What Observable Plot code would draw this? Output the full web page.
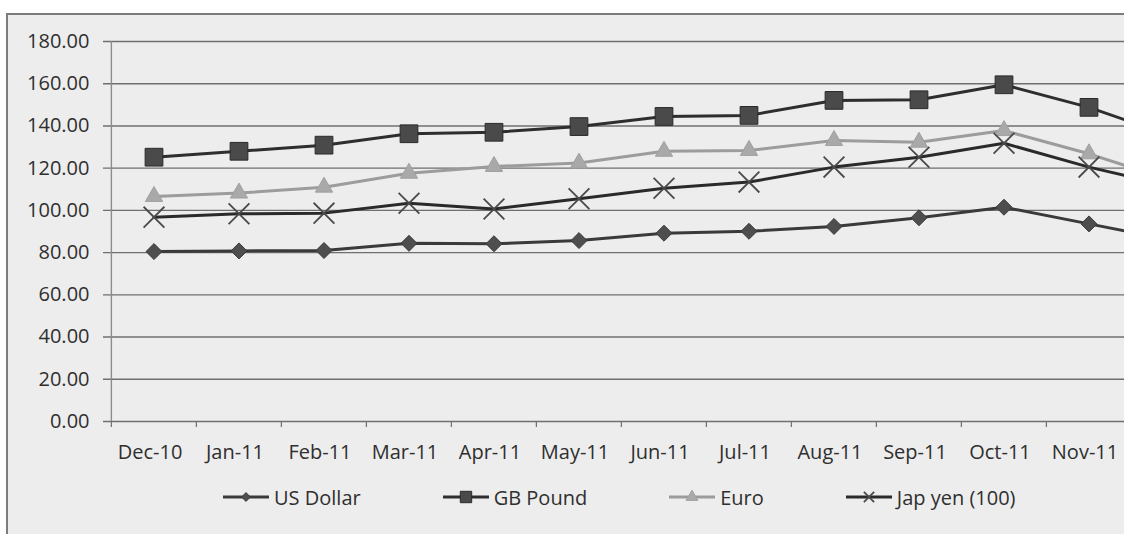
<!DOCTYPE html>
<html>
<head>
<meta charset="utf-8">
<script src="https://cdn.jsdelivr.net/npm/d3@7"></script>
<script src="https://cdn.jsdelivr.net/npm/@observablehq/plot@0.6"></script>
<style>
  html, body { margin: 0; padding: 0; background: #ffffff; }
  body { width: 1124px; height: 534px; overflow: hidden; position: relative; font-family: "Open Sans", sans-serif; }
  #panel {
    position: absolute; left: 6px; top: 13px; width: 1330px; height: 600px;
    border-left: 2px solid #7c7c7c; border-top: 2px solid #7c7c7c;
    background: #ededed; color: #2f2f2f;
  }
  #panel svg.chart { display: block; overflow: visible; }
  #legend { display: flex; align-items: center; height: 40px; padding-top: 6px; margin-left: 214px; }
  #legend .item { display: flex; align-items: center; margin-right: 81px; font-size: 20px; color: #2f2f2f; white-space: nowrap; }
  #legend .item svg { margin-right: 4px; }
</style>
</head>
<body>
<div id="panel">
  <div id="chart"></div>
  <div id="legend"></div>
</div>
<script>
// Monthly exchange rates (Rs per unit; yen per 100)
const months = ["Dec-10", "Jan-11", "Feb-11", "Mar-11", "Apr-11", "May-11", "Jun-11",
                "Jul-11", "Aug-11", "Sep-11", "Oct-11", "Nov-11", "Dec-11"];
const seriesNames = ["US Dollar", "GB Pound", "Euro", "Jap yen (100)"];
const usDollar = [80.5, 80.8, 81.0, 84.4, 84.2, 85.7, 89.2, 90.1, 92.4, 96.5, 101.5, 93.6, 85.8];
const gbPound  = [125.2, 128.0, 130.9, 136.3, 137.0, 139.7, 144.5, 145.0, 152.1, 152.4, 159.5, 148.8, 134.8];
const euro     = [106.6, 108.2, 111.0, 117.6, 120.8, 122.4, 128.0, 128.4, 133.1, 132.3, 137.8, 126.8, 113.8];
const japYen   = [96.8, 98.4, 98.7, 103.4, 100.7, 105.5, 110.5, 113.4, 120.5, 125.2, 131.8, 120.5, 111.2];
const yTicks = [0, 20, 40, 60, 80, 100, 120, 140, 160, 180];

const seriesValues = [usDollar, gbPound, euro, japYen];

// Look of each series: line colour and marker
const seriesStyle = [
  {line: "#3a3a3a", symbol: "diamond2", fill: "#4e4e4e", stroke: "#3a3a3a", strokeWidth: 1, r: 7.2, legendSym: d3.symbolDiamond2, legendSize: 50},
  {line: "#2e2e2e", symbol: "square", fill: "#4a4a4a", stroke: "#2a2a2a", strokeWidth: 1, r: 10, legendSym: d3.symbolSquare, legendSize: 130},
  {line: "#9c9c9c", symbol: "triangle", fill: "#a9a9a9", stroke: "#a0a0a0", strokeWidth: 1, r: 6.4, legendSym: d3.symbolTriangle, legendSize: 60},
  {line: "#2a2a2a", symbol: "times", fill: "none", stroke: "#4a4a4a", strokeWidth: 1.8, r: 9.5, legendSym: d3.symbolTimes, legendSize: 70}
];

const rows = seriesNames.flatMap((name, i) =>
  months.map((month, j) => ({series: name, month, value: seriesValues[i][j]})));

const width = 1229, marginLeft = 101, marginRight = 20;
const step = (width - marginLeft - marginRight) / months.length;

const seriesMarks = seriesNames.flatMap((name, i) => {
  const s = seriesStyle[i];
  const data = rows.filter(d => d.series === name);
  return [
    Plot.line(data, {x: "month", y: "value", stroke: s.line, strokeWidth: 3, strokeLinejoin: "round"}),
    Plot.dot(data, {x: "month", y: "value", symbol: s.symbol, r: s.r, fill: s.fill, stroke: s.stroke, strokeWidth: s.strokeWidth})
  ];
});

const chart = Plot.plot({
  width,
  height: 456,
  marginTop: 26,
  marginBottom: 50,
  marginLeft,
  marginRight,
  className: "chart",
  style: {background: "transparent", fontFamily: "Open Sans, sans-serif", fontSize: "20px", color: "#2f2f2f", overflow: "visible"},
  x: {type: "band", domain: months, padding: 0},
  y: {domain: [0, 180]},
  marks: [
    // horizontal gridlines, each with its small tick poking out left of the axis
    Plot.ruleY(yTicks, {stroke: "#6f6f6f", strokeWidth: 1.4, insetLeft: -6}),
    // vertical value axis line at the left edge of the first category
    Plot.ruleX([months[0]], {y1: 0, y2: 180, dx: -step / 2, stroke: "#8c8c8c", strokeWidth: 1.4}),
    // category tick marks between months
    Plot.ruleX(months, {y1: 0, y2: 0, insetBottom: -6, dx: -step / 2, stroke: "#6f6f6f", strokeWidth: 1.2}),
    Plot.axisY({ticks: yTicks, tickSize: 0, tickPadding: 20, tickFormat: d3.format(".2f"), fontSize: 20, label: null}),
    Plot.axisX({tickSize: 0, tickPadding: 23, fontSize: 20, label: null, dx: -4}),
    ...seriesMarks
  ]
});
document.getElementById("chart").append(chart);

// Legend: line sample with its marker, then the series name
const legend = d3.select("#legend");
seriesNames.forEach((name, i) => {
  const s = seriesStyle[i];
  const item = legend.append("div").attr("class", "item");
  const svg = item.append("svg").attr("width", 48).attr("height", 20);
  svg.append("line").attr("x1", 1).attr("x2", 47).attr("y1", 10).attr("y2", 10)
    .attr("stroke", s.line).attr("stroke-width", 3);
  svg.append("path").attr("transform", "translate(24,10)")
    .attr("d", d3.symbol(s.legendSym, s.legendSize)())
    .attr("fill", s.fill).attr("stroke", s.stroke).attr("stroke-width", s.strokeWidth);
  item.append("span").text(name);
});
</script>
</body>
</html>
